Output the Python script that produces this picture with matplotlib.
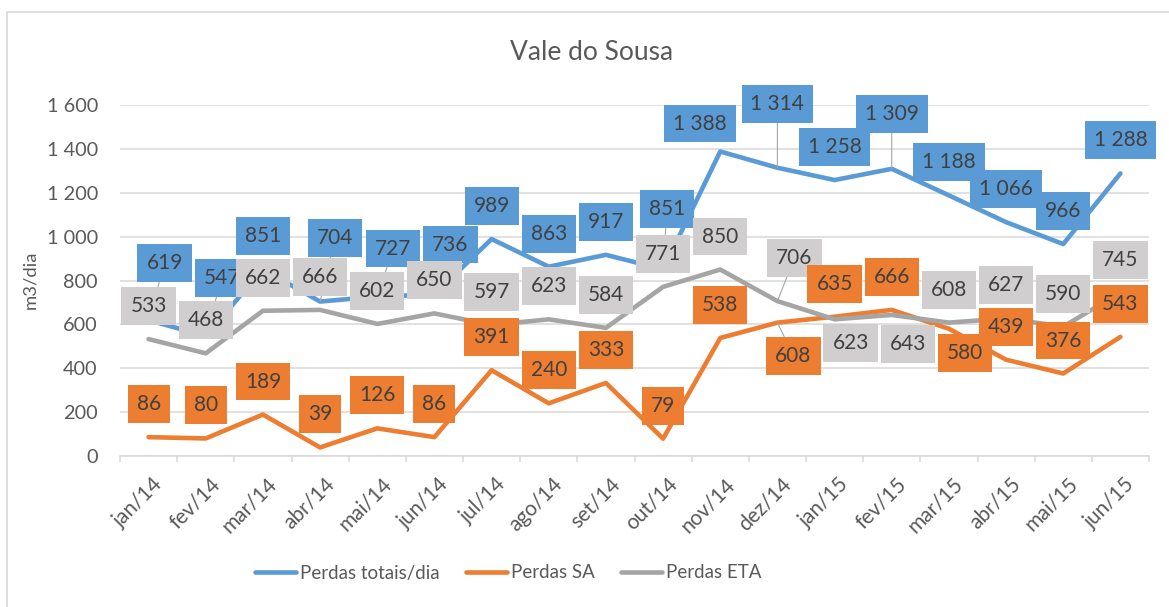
import matplotlib
matplotlib.use("Agg")
import matplotlib.pyplot as plt
import numpy as np
from matplotlib.ticker import FuncFormatter
from matplotlib.transforms import ScaledTranslation
from matplotlib.patches import Rectangle

plt.rcParams['font.family'] = ['Lato', 'DejaVu Sans']

# data
months = ["jan/14", "fev/14", "mar/14", "abr/14", "mai/14", "jun/14", "jul/14", "ago/14", "set/14",
          "out/14", "nov/14", "dez/14", "jan/15", "fev/15", "mar/15", "abr/15", "mai/15", "jun/15"]
perdas_totais = [619, 547, 851, 704, 727, 736, 989, 863, 917, 851, 1388, 1314, 1258, 1309, 1188, 1066, 966, 1288]
perdas_sa = [86, 80, 189, 39, 126, 86, 391, 240, 333, 79, 538, 608, 635, 666, 580, 439, 376, 543]
perdas_eta = [533, 468, 662, 666, 602, 650, 597, 623, 584, 771, 850, 706, 623, 643, 608, 627, 590, 745]

# label placement (pixel offsets from the point, +y = down)
above = (0, -33)
off_totais = [(16, -57), (16, -58), above, (15, -64), (16, -48), (16, -50), above, above, above,
              (4, -60), (-20, -28), (0, -64), above, (0, -55), above, above, above, above]
off_sa = [above] * 18
off_sa[11] = (16, 33)
off_sa[14] = (16, 24)
off_eta = [above] * 18
off_eta[11] = (17, -43)
off_eta[12] = (16, 24)
off_eta[13] = (16, 29)
leaders_totais = [0, 1, 3, 4, 5, 9, 11, 13]
leaders_sa = [11]
leaders_eta = [11]

c_blue = "#5b9bd5"
c_orange = "#ed7d31"
c_gray = "#a5a5a5"
c_graybox = "#d0cece"
c_text = "#595959"

W, H = 1169, 607
fig = plt.figure(figsize=(W / 100, H / 100), dpi=100)
ax = fig.add_axes([120 / W, 1 - 456 / H, 1029 / W, 351 / H])

x = np.arange(len(months))
ax.plot(x, perdas_totais, color=c_blue, lw=3.3, solid_capstyle="round", solid_joinstyle="round",
        label="Perdas totais/dia", zorder=3)
ax.plot(x, perdas_sa, color=c_orange, lw=3.3, solid_capstyle="round", solid_joinstyle="round",
        label="Perdas SA", zorder=3)
ax.plot(x, perdas_eta, color=c_gray, lw=3.3, solid_capstyle="round", solid_joinstyle="round",
        label="Perdas ETA", zorder=3)

ax.set_xlim(-0.5, len(months) - 0.5)
ax.set_ylim(0, 1600)
ax.set_yticks(range(0, 1601, 200))
ax.yaxis.set_major_formatter(FuncFormatter(lambda v, p: f"{int(v):,}".replace(",", " ")))
ax.grid(axis="y", color="#d9d9d9", lw=1.1)
ax.set_axisbelow(True)
for s in ["top", "right", "left"]:
    ax.spines[s].set_visible(False)
ax.spines["bottom"].set_color("#d9d9d9")
ax.spines["bottom"].set_linewidth(1.1)
ax.tick_params(axis="y", length=0, pad=16, labelsize=14.3, labelcolor=c_text)

ax.set_xticks(x)
ax.set_xticklabels(months, rotation=45, ha="right", rotation_mode="anchor")
ax.tick_params(axis="x", which="major", length=0, pad=13, labelsize=15, labelcolor=c_text)
ax.set_xticks(np.arange(-0.5, len(months)), minor=True)
ax.tick_params(axis="x", which="minor", length=4.5, color="#d9d9d9", width=1.1)
shift = ScaledTranslation(4 / 100, 0, fig.dpi_scale_trans)
for lab in ax.get_xticklabels():
    lab.set_transform(lab.get_transform() + shift)


def fmt(v):
    return f"{v:,}".replace(",", " ")


def add_labels(values, offsets, leaders, boxcolor, z):
    for i, v in enumerate(values):
        dx, dy = offsets[i]
        arrow = None
        if i in leaders:
            arrow = dict(arrowstyle="-", color="#a6a6a6", lw=0.8, shrinkA=0, shrinkB=0)
        ax.annotate(fmt(v), xy=(i, v), xytext=(dx * 0.72, -dy * 0.72), textcoords="offset points",
                    ha="center", va="center", fontsize=15, color="#404040",
                    bbox=dict(boxstyle="square,pad=0.43", fc=boxcolor, ec="none"),
                    arrowprops=arrow, zorder=z)


add_labels(perdas_totais, off_totais, leaders_totais, c_blue, 4)
add_labels(perdas_eta, off_eta, leaders_eta, c_graybox, 5)
add_labels(perdas_sa, off_sa, leaders_sa, c_orange, 6)

fig.text(592 / W, 1 - 52 / H, "Vale do Sousa", ha="center", va="center", fontsize=19, color=c_text)
fig.text(30 / W, 1 - 280 / H, "m3/dia", ha="center", va="center", rotation=90, fontsize=13.3, color=c_text)

fig.legend(loc="center", bbox_to_anchor=(508 / W, 1 - 573 / H), ncol=3, frameon=False,
           fontsize=13.5, labelcolor=c_text, handlelength=2.2, handletextpad=0.2, columnspacing=1.4)

fig.patches.append(Rectangle((7 / W, -0.05), 1.0, 1.05 - 12 / H, transform=fig.transFigure, figure=fig,
                             fill=False, ec="#d9d9d9", lw=1.2))

fig.savefig("out.png", dpi=100)
